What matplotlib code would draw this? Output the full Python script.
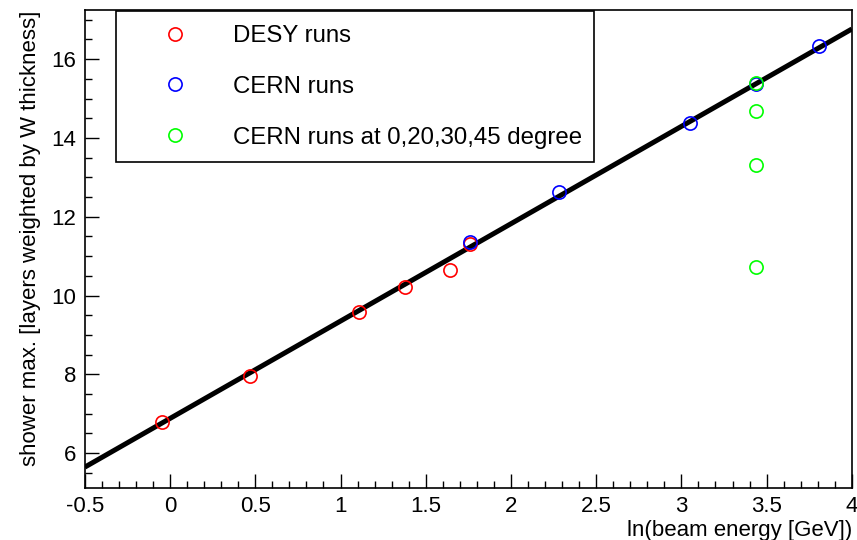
import numpy as np
import matplotlib
matplotlib.use("Agg")
import matplotlib.pyplot as plt
from matplotlib.ticker import MultipleLocator

plt.rcParams['font.family'] = ['Liberation Sans', 'DejaVu Sans']

# Data
desy_x = [-0.05, 0.47, 1.11, 1.38, 1.64, 1.76]
desy_y = [6.79, 7.95, 9.57, 10.21, 10.64, 11.30]
cern_x = [1.76, 2.28, 3.05, 3.44, 3.81]
cern_y = [11.35, 12.63, 14.39, 15.36, 16.33]
angle_x = [3.44, 3.44, 3.44, 3.44]
angle_y = [15.40, 14.68, 13.31, 10.73]
fit_intercept = 6.88
fit_slope = 2.471
fit_range = [-0.5, 4.0]

fig = plt.figure(figsize=(8.57, 5.40), dpi=100)
ax = fig.add_axes([0.099, 0.096, 0.895, 0.885])

fx = np.array(fit_range)
ax.plot(fx, fit_intercept + fit_slope * fx, color='black', lw=3.6, zorder=2,
        solid_capstyle='butt')

mk = dict(marker='o', linestyle='none', markersize=9.5, markerfacecolor='none',
          markeredgewidth=1.2, zorder=3)
ax.plot(desy_x, desy_y, markeredgecolor='#ff0000', label='DESY runs', **mk)
ax.plot(cern_x, cern_y, markeredgecolor='#0000ff', label='CERN runs', **mk)
ax.plot(angle_x, angle_y, markeredgecolor='#00ff00',
        label='CERN runs at 0,20,30,45 degree', **mk)

ax.set_xlim(-0.5, 4.0)
ax.set_ylim(5.11, 17.24)
ax.xaxis.set_major_locator(MultipleLocator(0.5))
ax.xaxis.set_minor_locator(MultipleLocator(0.1))
ax.yaxis.set_major_locator(MultipleLocator(2))
ax.yaxis.set_minor_locator(MultipleLocator(0.5))
ax.set_xticks(np.arange(-0.5, 4.01, 0.5))
ax.set_xticklabels(['-0.5', '0', '0.5', '1', '1.5', '2', '2.5', '3', '3.5', '4'])
ax.tick_params(which='both', direction='in', top=False, right=False,
               labelsize=16, width=1.0, color='black')
ax.tick_params(which='major', length=10, pad=6)
ax.tick_params(which='minor', length=5)
for s in ax.spines.values():
    s.set_linewidth(1.2)

ax.set_xlabel('ln(beam energy [GeV])', fontsize=16, loc='right', labelpad=2)
ax.set_ylabel('shower max. [layers weighted by W thickness]', fontsize=16,
              loc='top', labelpad=8)

leg = ax.legend(loc='upper left', bbox_to_anchor=(0.040, 0.0, 0.624, 0.998),
                mode='expand', borderaxespad=0, fancybox=False, framealpha=1,
                edgecolor='black', fontsize=17.3, handlelength=3.8,
                handletextpad=0.52, labelspacing=1.2, borderpad=0.57,
                numpoints=1)
leg.get_frame().set_linewidth(1.2)

fig.savefig('out.png', dpi=100)
